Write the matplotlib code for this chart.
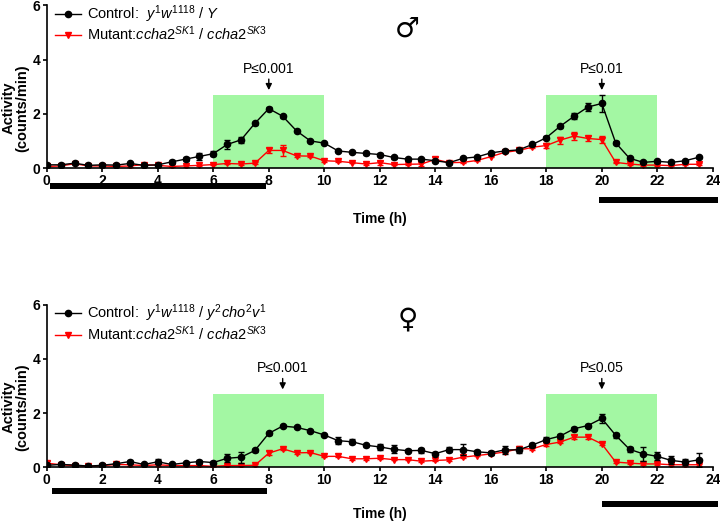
import numpy as np
import matplotlib
matplotlib.use("Agg")
import matplotlib.pyplot as plt
from matplotlib.patches import Rectangle
from matplotlib.lines import Line2D
import matplotlib.transforms as mtransforms

plt.rcParams['font.family'] = ['Liberation Sans', 'DejaVu Sans']
plt.rcParams['mathtext.fontset'] = 'custom'
plt.rcParams['mathtext.rm'] = 'Liberation Sans'
plt.rcParams['mathtext.it'] = 'Liberation Sans:italic'

# time points (h)
time = np.arange(0, 24, 0.5)

# males
male_ctrl = [0.12, 0.12, 0.18, 0.10, 0.12, 0.11, 0.17, 0.10, 0.12, 0.23, 0.33, 0.43,
             0.53, 0.87, 1.04, 1.65, 2.19, 1.91, 1.37, 1.00, 0.92, 0.63, 0.58, 0.54,
             0.50, 0.39, 0.33, 0.33, 0.27, 0.20, 0.36, 0.41, 0.56, 0.63, 0.67, 0.87,
             1.12, 1.54, 1.91, 2.25, 2.38, 0.93, 0.36, 0.21, 0.25, 0.21, 0.27, 0.40]
male_ctrl_err = [0.03] * 9 + [0.05, 0.08, 0.12, 0.10, 0.15, 0.10, 0.05, 0.05, 0.05,
                              0.04, 0.04, 0.04] + [0.04] * 15 + \
                [0.05, 0.06, 0.12, 0.14, 0.30, 0.06] + [0.04] * 6
male_mut = [0.06, 0.08, 0.16, 0.08, 0.08, 0.06, 0.08, 0.13, 0.10, 0.06, 0.08, 0.10,
            0.13, 0.17, 0.15, 0.18, 0.65, 0.65, 0.45, 0.44, 0.27, 0.25, 0.20, 0.15,
            0.20, 0.13, 0.14, 0.15, 0.32, 0.20, 0.21, 0.28, 0.42, 0.58, 0.65, 0.77,
            0.83, 1.03, 1.18, 1.09, 1.05, 0.21, 0.15, 0.11, 0.11, 0.09, 0.14, 0.14]
male_mut_err = [0.03, 0.03, 0.04, 0.03, 0.03, 0.03, 0.03, 0.06, 0.03, 0.03, 0.03, 0.03,
                0.03, 0.03, 0.03, 0.03, 0.08, 0.20, 0.05, 0.05, 0.03, 0.03, 0.03, 0.03,
                0.07, 0.03, 0.03, 0.06, 0.08, 0.04, 0.03, 0.03, 0.03, 0.03, 0.03, 0.04,
                0.10, 0.13, 0.14, 0.10, 0.13, 0.03, 0.03, 0.03, 0.03, 0.03, 0.04, 0.03]

# females
fem_ctrl = [0.07, 0.10, 0.08, 0.04, 0.07, 0.13, 0.21, 0.10, 0.20, 0.10, 0.16, 0.21,
            0.17, 0.33, 0.37, 0.62, 1.25, 1.52, 1.47, 1.35, 1.19, 0.98, 0.94, 0.81,
            0.75, 0.66, 0.61, 0.62, 0.50, 0.65, 0.65, 0.57, 0.53, 0.64, 0.64, 0.82,
            1.02, 1.15, 1.42, 1.54, 1.80, 1.18, 0.66, 0.49, 0.40, 0.25, 0.19, 0.27]
fem_ctrl_err = [0.03, 0.03, 0.03, 0.03, 0.03, 0.04, 0.05, 0.03, 0.10, 0.04, 0.05, 0.05,
                0.05, 0.15, 0.20, 0.05, 0.05, 0.04, 0.04, 0.04, 0.04, 0.12, 0.10, 0.05,
                0.10, 0.15, 0.06, 0.10, 0.05, 0.10, 0.20, 0.08, 0.08, 0.15, 0.10, 0.06,
                0.10, 0.06, 0.06, 0.06, 0.15, 0.10, 0.10, 0.25, 0.15, 0.15, 0.10, 0.25]
fem_mut = [0.15, 0.09, 0.06, 0.03, 0.06, 0.10, 0.09, 0.06, 0.09, 0.06, 0.06, 0.06,
           0.03, 0.06, 0.06, 0.07, 0.52, 0.68, 0.53, 0.54, 0.40, 0.40, 0.31, 0.31,
           0.33, 0.28, 0.28, 0.22, 0.25, 0.27, 0.37, 0.43, 0.49, 0.56, 0.68, 0.68,
           0.84, 0.93, 1.11, 1.11, 0.86, 0.19, 0.15, 0.12, 0.12, 0.09, 0.09, 0.09]
fem_mut_err = [0.08] + [0.03] * 15 + [0.08, 0.04] + [0.03] * 16 + \
              [0.10, 0.04, 0.04, 0.04, 0.07, 0.05, 0.03] + [0.03] * 7

male_labels = [r'Control:  $\mathit{y^{1}w^{1118}}$ / $\mathit{Y}$',
               r'Mutant:$\mathit{ccha2^{SK1}}$ / $\mathit{ccha2^{SK3}}$']
fem_labels = [r'Control:  $\mathit{y^{1}w^{1118}}$ / $\mathit{y^{2}cho^{2}v^{1}}$',
              r'Mutant:$\mathit{ccha2^{SK1}}$ / $\mathit{ccha2^{SK3}}$']

green = '#a3f7a3'
red = '#ff0000'


def panel(ax, ctrl, ctrl_err, mut, mut_err, labels, pvals, symbol, bars, tlab_y):
    for x0 in (6, 18):
        ax.add_patch(Rectangle((x0, 0), 4, 2.7, color=green, zorder=0, lw=0))
    ax.errorbar(time, ctrl, yerr=ctrl_err, color='black', marker='o', ms=4.5,
                lw=1, capsize=2.5, elinewidth=1, zorder=3)
    ax.errorbar(time, mut, yerr=mut_err, color=red, marker='v', ms=4.5,
                lw=1, capsize=2.5, elinewidth=1, zorder=2)
    for px, txt in pvals:
        ax.annotate('', xy=(px, 2.77), xytext=(px, 3.38),
                    arrowprops=dict(arrowstyle='-|>', color='black', lw=1,
                                    mutation_scale=9))
        ax.text(px, 3.65, txt, ha='center', va='center', fontsize=10)
    ax.text(13.0, symbol[1], symbol[0], fontsize=20, ha='center', va='center',
            family=['DejaVu Sans'])
    ax.set_xlim(0, 24)
    ax.set_ylim(0, 6)
    ax.set_xticks(range(0, 25, 2))
    ax.set_yticks([0, 2, 4, 6])
    for s in ('top', 'right'):
        ax.spines[s].set_visible(False)
    for s in ('left', 'bottom'):
        ax.spines[s].set_linewidth(1.2)
    ax.tick_params(width=1.2, length=3, labelsize=10, pad=1.5)
    for lab in ax.get_xticklabels() + ax.get_yticklabels():
        lab.set_fontweight('bold')
    ax.set_xlabel('Time (h)', fontweight='bold', fontsize=10)
    ax.xaxis.set_label_coords(0.5, tlab_y)
    ax.set_ylabel('Activity\n(counts/min)', fontweight='bold', fontsize=10.5,
                  linespacing=1.0)
    ax.yaxis.set_label_coords(-0.026, 0.37)
    trans = mtransforms.blended_transform_factory(ax.transData, ax.transAxes)
    for (xa, xb, yb) in bars:
        ax.add_patch(Rectangle((xa, yb), xb - xa, 0.037, transform=trans,
                               color='black', clip_on=False, lw=0))
    handles = [Line2D([], [], color='black', marker='o', ms=4.5, lw=1),
               Line2D([], [], color=red, marker='v', ms=4.5, lw=1)]
    ax.legend(handles, labels, loc='upper left', bbox_to_anchor=(-0.005, 1.085),
              frameon=False, fontsize=10.5, handlelength=1.8,
              labelspacing=0.0, handletextpad=0.4, borderpad=0.3)


fig = plt.figure(figsize=(7.2, 5.22), dpi=100)
ax1 = fig.add_axes([0.065, 0.678, 0.925, 0.312])
ax2 = fig.add_axes([0.065, 0.105, 0.925, 0.311])

panel(ax1, male_ctrl, male_ctrl_err, male_mut, male_mut_err, male_labels,
      [(8, 'P≤0.001'), (20, 'P≤0.01')], ('♂', 5.15),
      [(0.1, 7.9, -0.13), (19.9, 24.2, -0.215)], -0.27)
panel(ax2, fem_ctrl, fem_ctrl_err, fem_mut, fem_mut_err, fem_labels,
      [(8.5, 'P≤0.001'), (20, 'P≤0.05')], ('♀', 5.45),
      [(0.2, 7.95, -0.167), (20.0, 24.2, -0.245)], -0.245)

fig.savefig('out.png', dpi=100)
